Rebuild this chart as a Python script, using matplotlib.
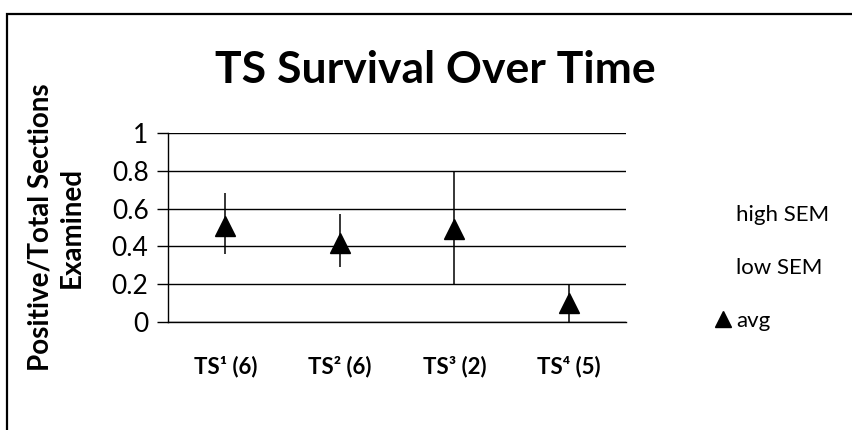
import matplotlib
matplotlib.use('Agg')
import matplotlib.pyplot as plt
from matplotlib.lines import Line2D
from matplotlib.patches import Rectangle

plt.rcParams['font.family'] = ['Lato', 'DejaVu Sans']

# Datos
categorias = ['TS¹ (6)', 'TS² (6)', 'TS³ (2)', 'TS⁴ (5)']
high_sem = [0.68, 0.57, 0.80, 0.20]
low_sem = [0.36, 0.29, 0.20, 0.00]
avg = [0.51, 0.42, 0.49, 0.10]

fig = plt.figure(figsize=(8.53, 4.30), dpi=100)
ax = fig.add_axes([0.197, 0.251, 0.537, 0.44])

x = range(len(categorias))

# barras alto-bajo y promedio
ax.vlines(x, low_sem, high_sem, color='black', lw=1.1, zorder=3)
ax.plot(x, avg, linestyle='none', marker='^', ms=14, color='black', zorder=4)

ax.set_xlim(-0.5, 3.5)
ax.set_ylim(0, 1)
ax.set_yticks([0, 0.2, 0.4, 0.6, 0.8, 1])
ax.set_yticklabels(['0', '0.2', '0.4', '0.6', '0.8', '1'], fontsize=19)
ax.set_xticks(list(x))
ax.set_xticklabels(categorias, fontsize=16, fontweight='bold')
ax.tick_params(axis='x', length=0, pad=24)
ax.tick_params(axis='y', length=8, width=1, direction='out', pad=6)
ax.yaxis.grid(True, color='black', lw=1)
ax.set_axisbelow(True)
for lado in ['top', 'right']:
    ax.spines[lado].set_visible(False)
ax.spines['left'].set_linewidth(1)
ax.spines['bottom'].set_linewidth(1)

ax.set_ylabel('Positive/Total Sections\nExamined', fontsize=20, fontweight='bold',
              linespacing=1.25, ha='center', va='center', rotation_mode='default')
ax.yaxis.set_label_coords(-0.245, 0.5)

fig.text(0.51, 0.838, 'TS Survival Over Time', ha='center', va='center',
         fontsize=32, fontweight='bold')

# leyenda
handles = [Line2D([], [], linestyle='none'),
           Line2D([], [], linestyle='none'),
           Line2D([], [], linestyle='none', marker='^', color='black', ms=12)]
fig.legend(handles, ['high SEM', 'low SEM', 'avg'], loc='center left',
           bbox_to_anchor=(0.816, 0.377), frameon=False, fontsize=16,
           handlelength=0.6, handletextpad=0.3, labelspacing=1.5)

# marco del grafico
fig.patches.append(Rectangle((0.008, -0.2), 1.2, 1.2 - 14 / 430,
                             transform=fig.transFigure, fill=False,
                             edgecolor='black', lw=1.6))

fig.savefig('out.png', dpi=100)
